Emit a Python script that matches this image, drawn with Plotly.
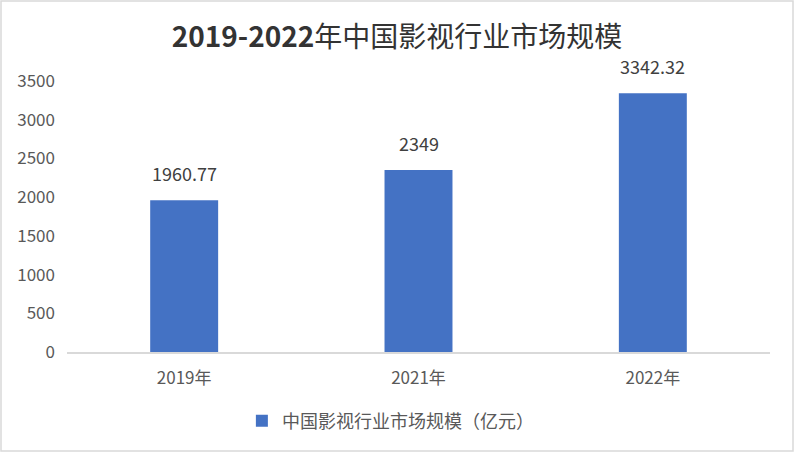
import plotly.graph_objects as go

categories = ["2019年", "2021年", "2022年"]
values = [1960.77, 2349, 3342.32]
value_labels = ["1960.77", "2349", "3342.32"]
series_name = "中国影视行业市场规模（亿元）"
title_bold = "2019-2022"
title_rest = "年中国影视行业市场规模"
y_ticks = [0, 500, 1000, 1500, 2000, 2500, 3000, 3500]

W, H = 794, 452
L, R, T, B = 67, 24, 81, 100
pw, ph = W - L - R, H - T - B

font_fam = "Noto Sans CJK SC, Microsoft YaHei, sans-serif"

fig = go.Figure()
fig.add_trace(go.Bar(
    x=categories, y=values, name=series_name,
    marker=dict(color="#4472C4", line=dict(width=0)),
    width=0.29,
))

for c, v, t in zip(categories, values, value_labels):
    fig.add_annotation(x=c, y=v, text=t, showarrow=False, yanchor="bottom",
                       yshift=12, font=dict(size=18, color="#404040", family=font_fam))

fig.add_shape(type="rect", xref="paper", yref="paper",
              x0=-(L - 1) / pw, x1=1 + (R - 1) / pw,
              y0=-(B - 1) / ph, y1=1 + (T - 1) / ph,
              line=dict(color="#D9D9D9", width=1.5), layer="below")

fig.update_layout(
    width=W, height=H,
    margin=dict(l=L, r=R, t=T, b=B),
    paper_bgcolor="white", plot_bgcolor="white",
    title=dict(text="<b>" + title_bold + "</b>" + title_rest, x=0.5, xref="container",
               xanchor="center", y=1 - 37 / H, yanchor="middle",
               font=dict(size=28, color="#333333", family=font_fam)),
    showlegend=True,
    legend=dict(orientation="h", x=0.46, xanchor="center", y=-(421 - 352) / ph, yanchor="middle",
                font=dict(size=18, color="#595959", family=font_fam)),
    xaxis=dict(showgrid=False, showline=True, linecolor="#D9D9D9", linewidth=1.5,
               tickfont=dict(size=17, color="#595959", family=font_fam), ticks="",
               ticklabelstandoff=10),
    yaxis=dict(range=[0, 3500], tickvals=y_ticks, showgrid=False, zeroline=False, showline=False,
               tickfont=dict(size=17, color="#595959", family=font_fam), ticks="",
               ticklabelstandoff=11),
    bargap=0.71,
)

fig.write_html("out.html", config={"displayModeBar": False},
               post_script="document.body.style.margin='0';")
